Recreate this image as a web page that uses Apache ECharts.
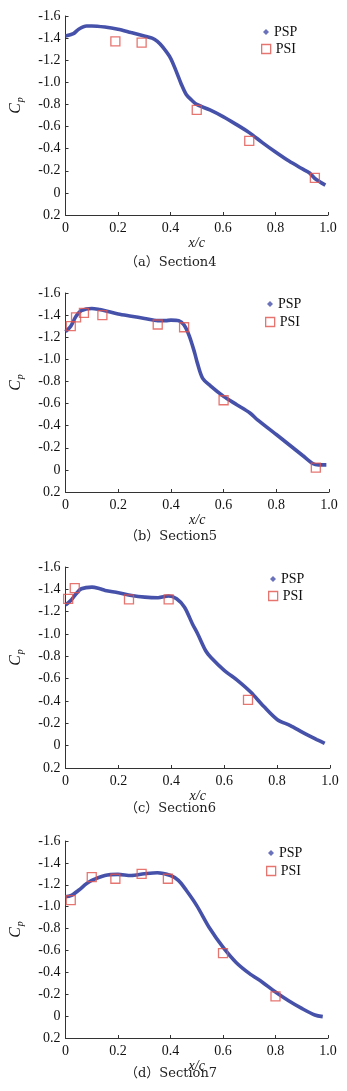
<!DOCTYPE html>
<html>
<head>
<meta charset="utf-8">
<script src="https://cdn.jsdelivr.net/npm/echarts@6/dist/echarts.min.js"></script>
<style>
  html, body { margin: 0; padding: 0; background: #fff; }
  #main { width: 347px; height: 1091px; }
</style>
</head>
<body>
<div id="main"></div>
<script>
// x/c ticks and Cp ticks
const xTicks = [0, 0.2, 0.4, 0.6, 0.8, 1.0]
const cpTicks = [-1.6, -1.4, -1.2, -1.0, -0.8, -0.6, -0.4, -0.2, 0, 0.2]

const captions = ['（a）Section4', '（b）Section5', '（c）Section6', '（d）Section7']

// PSP curves, [x/c, Cp]
const psp4 = [[0, -1.42], [0.03, -1.44], [0.05, -1.48], [0.08, -1.51], [0.1, -1.51], [0.15, -1.50], [0.2, -1.48], [0.25, -1.45], [0.3, -1.42], [0.33, -1.40], [0.35, -1.37], [0.37, -1.32], [0.4, -1.22], [0.42, -1.11], [0.44, -0.99], [0.46, -0.89], [0.48, -0.84], [0.5, -0.80], [0.55, -0.75], [0.6, -0.69], [0.65, -0.62], [0.7, -0.545], [0.75, -0.455], [0.8, -0.37], [0.85, -0.29], [0.9, -0.22], [0.93, -0.18], [0.95, -0.13], [0.99, -0.07]]
const psp5 = [[0, -1.25], [0.02, -1.30], [0.04, -1.39], [0.06, -1.44], [0.1, -1.46], [0.13, -1.45], [0.15, -1.44], [0.2, -1.41], [0.25, -1.39], [0.3, -1.37], [0.35, -1.35], [0.38, -1.35], [0.4, -1.355], [0.43, -1.35], [0.45, -1.31], [0.47, -1.21], [0.49, -1.06], [0.5, -0.97], [0.52, -0.83], [0.55, -0.76], [0.6, -0.665], [0.65, -0.59], [0.7, -0.515], [0.73, -0.45], [0.8, -0.32], [0.85, -0.225], [0.9, -0.13], [0.94, -0.055], [0.96, -0.045], [0.99, -0.045]]
const psp6 = [[0, -1.26], [0.02, -1.30], [0.04, -1.36], [0.06, -1.405], [0.1, -1.42], [0.13, -1.405], [0.15, -1.39], [0.2, -1.37], [0.25, -1.345], [0.3, -1.33], [0.35, -1.325], [0.39, -1.34], [0.42, -1.315], [0.45, -1.24], [0.48, -1.09], [0.5, -1.00], [0.53, -0.85], [0.55, -0.79], [0.6, -0.675], [0.65, -0.585], [0.7, -0.48], [0.75, -0.35], [0.8, -0.235], [0.85, -0.18], [0.9, -0.115], [0.95, -0.055], [0.98, -0.02]]
const psp7 = [[0, -1.09], [0.02, -1.10], [0.05, -1.15], [0.08, -1.21], [0.1, -1.24], [0.15, -1.285], [0.2, -1.295], [0.25, -1.285], [0.3, -1.30], [0.35, -1.31], [0.4, -1.285], [0.43, -1.24], [0.46, -1.15], [0.5, -1.01], [0.55, -0.80], [0.6, -0.63], [0.65, -0.49], [0.7, -0.39], [0.75, -0.31], [0.8, -0.22], [0.85, -0.14], [0.9, -0.07], [0.95, -0.01], [0.98, 0.005]]

// PSI taps
const psi4 = [[0.19, -1.37], [0.29, -1.36], [0.5, -0.75], [0.70, -0.47], [0.95, -0.135]]
const psi5 = [[0.02, -1.30], [0.04, -1.38], [0.07, -1.42], [0.14, -1.40], [0.35, -1.315], [0.45, -1.29], [0.6, -0.63], [0.95, -0.02]]
const psi6 = [[0.01, -1.315], [0.035, -1.41], [0.24, -1.31], [0.39, -1.31], [0.69, -0.41]]
const psi7 = [[0.02, -1.06], [0.1, -1.27], [0.19, -1.255], [0.29, -1.30], [0.39, -1.255], [0.6, -0.575], [0.8, -0.18]]

const pspSets = [psp4, psp5, psp6, psp7]
const psiSets = [psi4, psi5, psi6, psi7]

const SERIF = 'Liberation Serif, DejaVu Serif, serif'
const BLUE = '#4652aa'
const RED = '#e0524c'

// panel boxes (px): grid, legend, caption
const panels = [
  { top: 16, width: 270, height: 199, lg: [263, 25, 261, 42], cap: 256 },
  { top: 293, width: 271, height: 199, lg: [267, 297, 265, 315], cap: 530 },
  { top: 567, width: 272, height: 201, lg: [270, 572, 268, 589], cap: 802 },
  { top: 841, width: 270, height: 197, lg: [268, 846, 266, 864], cap: 1067 }
]

const chart = echarts.init(document.getElementById('main'))

const option = {
  animation: false,
  backgroundColor: '#fff',
  title: [],
  legend: [],
  grid: [],
  xAxis: [],
  yAxis: [],
  series: []
}

panels.forEach((p, i) => {
  option.grid.push({ left: 58, top: p.top, width: p.width, height: p.height })
  option.xAxis.push({
    type: 'value',
    gridIndex: i,
    min: xTicks[0],
    max: xTicks[xTicks.length - 1],
    interval: 0.2,
    name: 'x/c',
    nameLocation: 'middle',
    nameGap: 15,
    nameTextStyle: { fontFamily: SERIF, fontStyle: 'italic', fontSize: 14, color: '#111' },
    axisLine: { onZero: false, lineStyle: { color: '#333', width: 1 } },
    axisTick: { inside: true, length: 3, lineStyle: { color: '#333' } },
    axisLabel: {
      margin: 6,
      fontFamily: SERIF,
      fontSize: 14,
      color: '#111',
      formatter: v => v === 0 ? '0' : v.toFixed(1)
    },
    splitLine: { show: false }
  })
  option.yAxis.push({
    type: 'value',
    gridIndex: i,
    inverse: true,
    min: cpTicks[0],
    max: cpTicks[cpTicks.length - 1],
    interval: 0.2,
    name: '{c|C}{p|p}',
    nameLocation: 'middle',
    nameGap: 40,
    nameRotate: 90,
    nameTextStyle: {
      padding: [0, 0, 0, 20],
      rich: {
        c: { fontFamily: SERIF, fontStyle: 'italic', fontSize: 16, color: '#111' },
        p: { fontFamily: SERIF, fontStyle: 'italic', fontSize: 10, color: '#111', padding: [9, 0, 0, 1] }
      }
    },
    axisLine: { show: true, onZero: false, lineStyle: { color: '#333', width: 1 } },
    axisTick: { show: true, inside: true, length: 3, lineStyle: { color: '#333' } },
    axisLabel: {
      margin: 5,
      fontFamily: SERIF,
      fontSize: 14,
      color: '#111',
      formatter: v => Math.abs(v) < 1e-9 ? '0' : v.toFixed(1)
    },
    splitLine: { show: false }
  })
  option.series.push({
    name: 'PSP',
    type: 'line',
    xAxisIndex: i,
    yAxisIndex: i,
    data: pspSets[i],
    smooth: 0.3,
    showSymbol: false,
    lineStyle: { color: BLUE, width: 3.6 },
    itemStyle: { color: BLUE }
  })
  option.series.push({
    name: 'PSI',
    type: 'scatter',
    xAxisIndex: i,
    yAxisIndex: i,
    data: psiSets[i],
    symbol: 'rect',
    symbolSize: 9,
    z: 5,
    itemStyle: { color: 'rgba(255,255,255,0)', borderColor: RED, borderWidth: 1.3 }
  })
  option.legend.push({
    left: p.lg[0],
    top: p.lg[1],
    padding: 0,
    itemWidth: 6,
    itemHeight: 6,
    itemGap: 0,
    selectedMode: false,
    textStyle: { fontFamily: SERIF, fontSize: 14, color: '#111' },
    data: [{ name: 'PSP', icon: 'diamond', itemStyle: { color: '#6a72bb' } }]
  })
  option.legend.push({
    left: p.lg[2],
    top: p.lg[3],
    padding: 0,
    itemWidth: 9,
    itemHeight: 9,
    selectedMode: false,
    textStyle: { fontFamily: SERIF, fontSize: 14, color: '#111' },
    data: [{ name: 'PSI', icon: 'rect', itemStyle: { color: '#fff', borderColor: RED, borderWidth: 1.3 } }]
  })
  option.title.push({
    text: captions[i],
    left: 125,
    top: p.cap,
    padding: 0,
    textStyle: { fontFamily: 'DejaVu Serif, Noto Sans CJK SC', fontSize: 13, fontWeight: 'normal', color: '#222' }
  })
})

chart.setOption(option)
</script>
</body>
</html>
